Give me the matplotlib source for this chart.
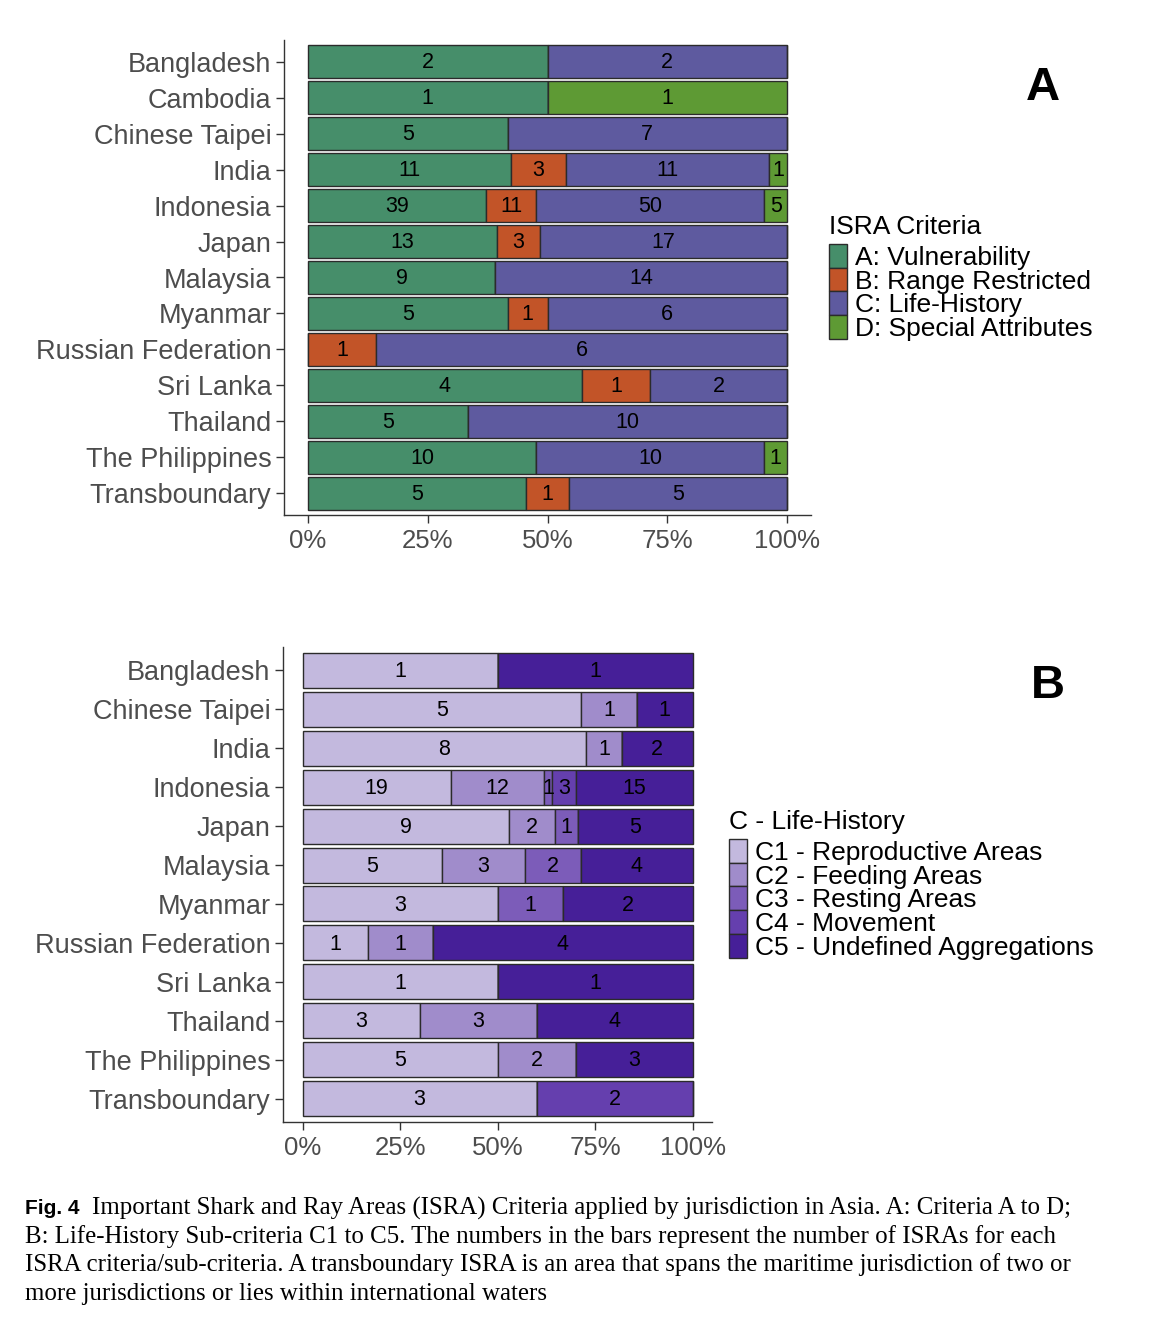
import matplotlib
matplotlib.use("Agg")
import matplotlib.pyplot as plt
from matplotlib.patches import Patch
import numpy as np

# ---------------- Data ----------------
countries_a = ["Bangladesh", "Cambodia", "Chinese Taipei", "India", "Indonesia", "Japan",
               "Malaysia", "Myanmar", "Russian Federation", "Sri Lanka", "Thailand",
               "The Philippines", "Transboundary"]
crit_a = [2, 1, 5, 11, 39, 13, 9, 5, 0, 4, 5, 10, 5]
crit_b = [0, 0, 0, 3, 11, 3, 0, 1, 1, 1, 0, 0, 1]
crit_c = [2, 0, 7, 11, 50, 17, 14, 6, 6, 2, 10, 10, 5]
crit_d = [0, 1, 0, 1, 5, 0, 0, 0, 0, 0, 0, 1, 0]
labels_a = ["A: Vulnerability", "B: Range Restricted", "C: Life-History", "D: Special Attributes"]
colors_a = ["#468e6a", "#c25428", "#5e5a9f", "#5e9a34"]

countries_b = ["Bangladesh", "Chinese Taipei", "India", "Indonesia", "Japan", "Malaysia",
               "Myanmar", "Russian Federation", "Sri Lanka", "Thailand", "The Philippines",
               "Transboundary"]
sub_c1 = [1, 5, 8, 19, 9, 5, 3, 1, 1, 3, 5, 3]
sub_c2 = [0, 1, 1, 12, 2, 3, 0, 1, 0, 3, 2, 0]
sub_c3 = [0, 0, 0, 1, 1, 2, 1, 0, 0, 0, 0, 0]
sub_c4 = [0, 0, 0, 3, 0, 0, 0, 0, 0, 0, 0, 2]
sub_c5 = [1, 1, 2, 15, 5, 4, 2, 4, 1, 4, 3, 0]
labels_b = ["C1 - Reproductive Areas", "C2 - Feeding Areas", "C3 - Resting Areas",
            "C4 - Movement", "C5 - Undefined Aggregations"]
colors_b = ["#c3b9de", "#a08ccb", "#7c5cb9", "#653fae", "#461f98"]

xticks = [0, 0.25, 0.5, 0.75, 1.0]
xticklabels = ["0%", "25%", "50%", "75%", "100%"]

W, H = 1164, 1338
fig = plt.figure(figsize=(W / 100, H / 100), dpi=100)
plt.rcParams["font.family"] = ["Liberation Sans", "DejaVu Sans"]

EDGE = "#2b2b2b"
TICKCOL = "#333333"
LABCOL = "#4d4d4d"


def px_axes(l, t, r, b):
    return fig.add_axes([l / W, 1 - b / H, (r - l) / W, (b - t) / H])


def stacked(ax, cats, series, colors):
    n = len(cats)
    arr = np.array(series, dtype=float)
    totals = arr.sum(axis=0)
    frac = arr / totals
    y = np.arange(n)
    left = np.zeros(n)
    for k in range(arr.shape[0]):
        ax.barh(y, frac[k], left=left, height=0.9, color=colors[k],
                edgecolor=EDGE, linewidth=1.0)
        for i in range(n):
            if arr[k, i] > 0:
                ax.text(left[i] + frac[k, i] / 2, y[i] + 0.03, f"{int(arr[k, i])}",
                        ha="center", va="center", fontsize=15.5, color="black")
        left = left + frac[k]
    ax.set_xlim(-0.05, 1.05)
    ax.set_ylim(n - 0.4, -0.6)
    ax.set_yticks(y)
    ax.set_yticklabels(cats)
    ax.set_xticks(xticks)
    ax.set_xticklabels(xticklabels)
    for s in ["top", "right"]:
        ax.spines[s].set_visible(False)
    for s in ["left", "bottom"]:
        ax.spines[s].set_color(TICKCOL)
        ax.spines[s].set_linewidth(1.0)
    ax.tick_params(axis="y", length=6, width=1, color=TICKCOL, labelcolor=LABCOL,
                   labelsize=19.5, pad=3)
    ax.tick_params(axis="x", length=6, width=1, color=TICKCOL, labelcolor=LABCOL,
                   labelsize=18.5, pad=4)


axA = px_axes(284, 40, 811, 515)
stacked(axA, countries_a, [crit_a, crit_b, crit_c, crit_d], colors_a)

axB = px_axes(283, 647, 712, 1122)
stacked(axB, countries_b, [sub_c1, sub_c2, sub_c3, sub_c4, sub_c5], colors_b)


def legend(x, ytitle, ytop, title, labels, colors):
    fig.text(x / W, 1 - ytitle / H, title, fontsize=19, ha="left", va="center",
             color="black")
    handles = [Patch(facecolor=c, edgecolor=EDGE, linewidth=1.0) for c in colors]
    lg = fig.legend(handles, labels, loc="upper left",
                    bbox_to_anchor=(x / W, 1 - ytop / H), bbox_transform=fig.transFigure,
                    frameon=False, fontsize=19, handlelength=0.7, handleheight=1.0,
                    handletextpad=0.3, labelspacing=-0.08, borderpad=0,
                    borderaxespad=0)
    return lg


legend(829, 227, 244, "ISRA Criteria", labels_a, colors_a)
legend(729, 822, 839, "C - Life-History", labels_b, colors_b)

fig.text(1043 / W, 1 - 88 / H, "A", fontsize=34, fontweight="bold", ha="center", va="center")
fig.text(1048 / W, 1 - 686 / H, "B", fontsize=34, fontweight="bold", ha="center", va="center")

# Caption
cap_lines = [
    "Important Shark and Ray Areas (ISRA) Criteria applied by jurisdiction in Asia. A: Criteria A to D;",
    "B: Life-History Sub-criteria C1 to C5. The numbers in the bars represent the number of ISRAs for each",
    "ISRA criteria/sub-criteria. A transboundary ISRA is an area that spans the maritime jurisdiction of two or",
    "more jurisdictions or lies within international waters",
]
cap_y = [1208, 1237, 1265, 1294]
fig.text(25 / W, 1 - cap_y[0] / H, "Fig. 4", fontsize=15, fontweight="bold",
         family=["Liberation Sans Narrow", "Liberation Sans"], ha="left", va="center")
for i, (line, yy) in enumerate(zip(cap_lines, cap_y)):
    x0 = 92 if i == 0 else 25
    fig.text(x0 / W, 1 - yy / H, line, fontsize=17.9, family=["Liberation Serif"],
             ha="left", va="center", color="black")

fig.savefig("out.png", dpi=100, facecolor="white")
